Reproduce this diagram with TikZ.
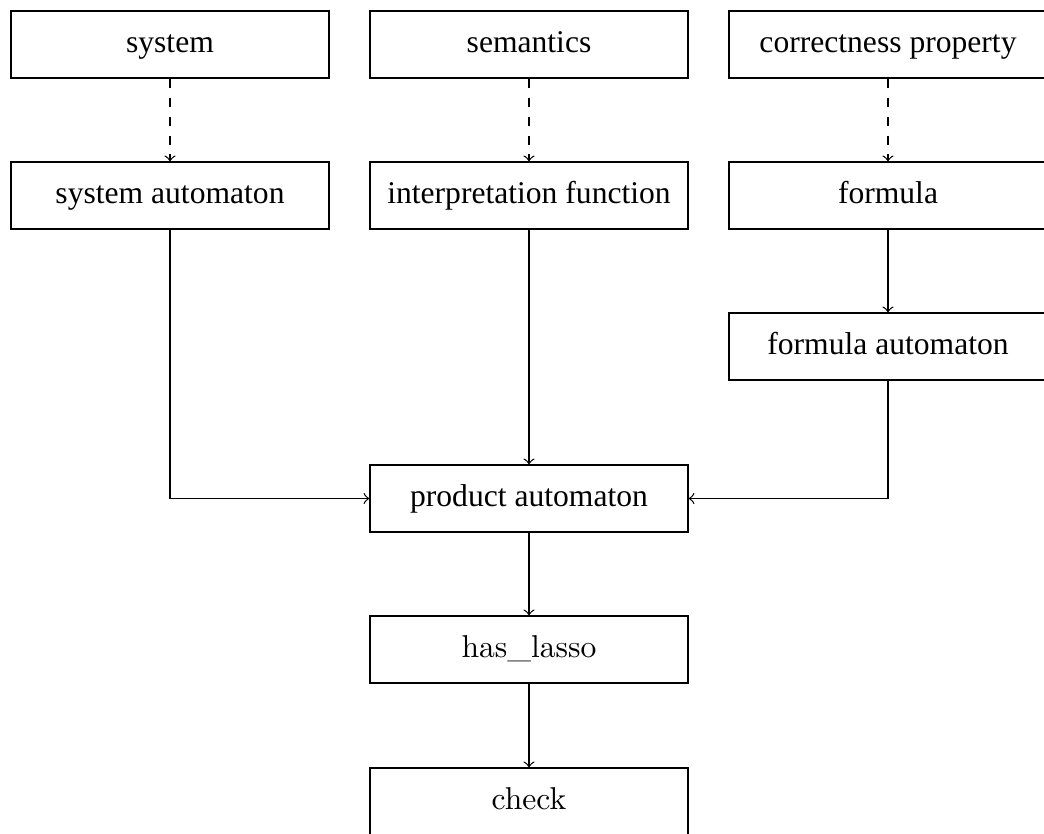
\documentclass[tikz,border=0pt]{standalone}
\usepackage{fontspec}
\newfontfamily\timesfont{Liberation Serif}
\begin{document}
\begin{tikzpicture}[x=0.3165pt, y=-0.3165pt,
  stagebox/.style={draw, line width=0.4pt, minimum width=318*0.3165pt,
    minimum height=67*0.3165pt, inner sep=0pt, text height=7pt, text depth=2.2pt,
    font=\fontsize{10}{12}\selectfont},
  tbox/.style={stagebox, font=\fontsize{10}{12}\selectfont\timesfont},
  flow/.style={->, line width=0.4pt},
  derive/.style={->, dashed, line width=0.4pt}]
  \useasboundingbox (0,0) rectangle (1044,833);

  % top row: inputs
  \node[tbox] (sys)  at (170,44.5) {system};
  \node[tbox] (sem)  at (529,44.5) {semantics};
  \node[tbox] (prop) at (888,44.5) {correctness property};

  % second row: derived objects
  \node[tbox] (sysaut) at (170,195.5) {system automaton};
  \node[tbox] (interp) at (529,195.5) {interpretation function};
  \node[tbox] (form)   at (888,195.5) {formula};

  \node[tbox] (formaut) at (888,346.5) {formula automaton};

  % product and checking pipeline
  \node[tbox] (prod)     at (529,498.5) {product automaton};
  \node[stagebox] (lasso) at (529,649.5) {has\_lasso};
  \node[stagebox] (check) at (529,801.5) {check};

  \draw[derive] (sys) -- (sysaut);
  \draw[derive] (sem) -- (interp);
  \draw[derive] (prop) -- (form);
  \draw[flow] (form) -- (formaut);

  \draw[flow] (sysaut.south) |- (prod.west);
  \draw[flow] (interp) -- (prod);
  \draw[flow] (formaut.south) |- (prod.east);

  \draw[flow] (prod) -- (lasso);
  \draw[flow] (lasso) -- (check);
\end{tikzpicture}
\end{document}
